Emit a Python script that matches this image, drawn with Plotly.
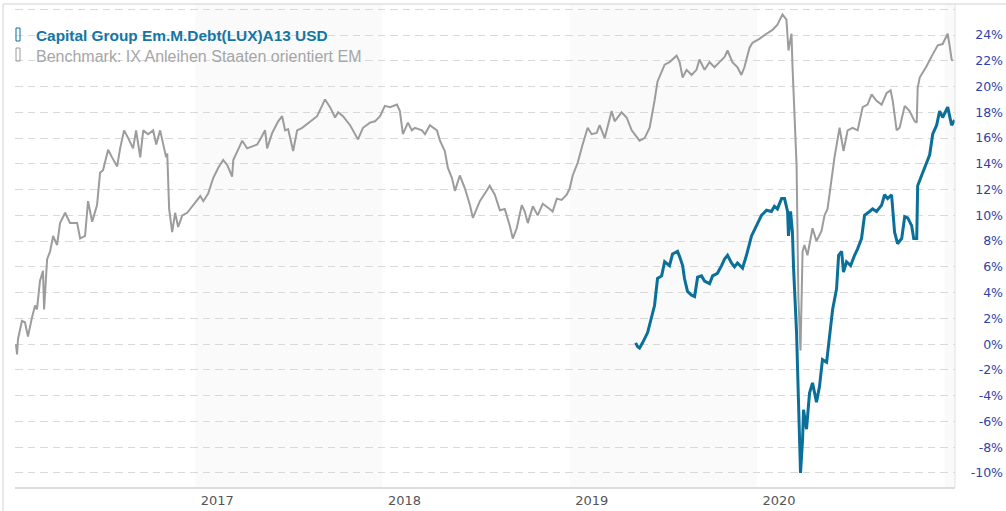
import math
import pandas as pd
import plotly.graph_objects as go

# ---------------- data (time as decimal years, values in %) ----------------
fund_name = "Capital Group Em.M.Debt(LUX)A13 USD"
bench_name = "Benchmark: IX Anleihen Staaten orientiert EM"

bench_t = [
    2016.045, 2016.051, 2016.056, 2016.077, 2016.093, 2016.109, 2016.131, 2016.147, 2016.157, 2016.173,
    2016.189, 2016.195, 2016.211, 2016.227, 2016.243, 2016.264, 2016.280, 2016.307, 2016.333, 2016.371,
    2016.387, 2016.413, 2016.429, 2016.451, 2016.477, 2016.493, 2016.509, 2016.536, 2016.557, 2016.584,
    2016.600, 2016.621, 2016.643, 2016.669, 2016.685, 2016.707, 2016.723, 2016.749, 2016.776, 2016.792,
    2016.813, 2016.829, 2016.845, 2016.851, 2016.861, 2016.877, 2016.893, 2016.909, 2016.931, 2016.957,
    2016.984, 2017.027, 2017.043, 2017.069, 2017.096, 2017.123, 2017.149, 2017.171, 2017.197, 2017.203,
    2017.229, 2017.251, 2017.277, 2017.331, 2017.347, 2017.373, 2017.384, 2017.411, 2017.443, 2017.464,
    2017.480, 2017.496, 2017.523, 2017.544, 2017.571, 2017.613, 2017.651, 2017.677, 2017.693, 2017.720,
    2017.747, 2017.763, 2017.789, 2017.827, 2017.869, 2017.896, 2017.933, 2017.960, 2017.987, 2018.013,
    2018.040, 2018.077, 2018.093, 2018.109, 2018.136, 2018.157, 2018.173, 2018.211, 2018.227, 2018.253,
    2018.291, 2018.307, 2018.333, 2018.349, 2018.371, 2018.387, 2018.413, 2018.440, 2018.467, 2018.483,
    2018.504, 2018.520, 2018.547, 2018.573, 2018.600, 2018.627, 2018.653, 2018.680, 2018.696, 2018.717,
    2018.744, 2018.760, 2018.776, 2018.803, 2018.829, 2018.856, 2018.893, 2018.909, 2018.931, 2018.957,
    2018.984, 2019.000, 2019.016, 2019.043, 2019.069, 2019.096, 2019.117, 2019.144, 2019.160, 2019.187,
    2019.224, 2019.240, 2019.277, 2019.304, 2019.331, 2019.373, 2019.400, 2019.427, 2019.453, 2019.469,
    2019.507, 2019.533, 2019.571, 2019.587, 2019.603, 2019.624, 2019.651, 2019.677, 2019.693, 2019.720,
    2019.747, 2019.773, 2019.800, 2019.827, 2019.843, 2019.869, 2019.896, 2019.917, 2019.933, 2019.960,
    2019.976, 2020.013, 2020.051, 2020.083, 2020.109, 2020.136, 2020.157, 2020.168, 2020.184, 2020.189,
    2020.211, 2020.221, 2020.232, 2020.243, 2020.253, 2020.269, 2020.296, 2020.317, 2020.344, 2020.360,
    2020.376, 2020.397, 2020.413, 2020.440, 2020.461, 2020.483, 2020.509, 2020.536, 2020.563, 2020.589,
    2020.611, 2020.637, 2020.664, 2020.691, 2020.712, 2020.723, 2020.744, 2020.760, 2020.787, 2020.813,
    2020.840, 2020.851, 2020.856, 2020.867, 2020.904, 2020.936, 2020.963, 2020.989, 2021.016, 2021.027,
    2021.037, 2021.043,
]
bench_v = [
    0.0, -0.8, 0.4, 1.8, 1.7, 0.6, 2.1, 3.0, 2.7, 4.9,
    5.7, 2.7, 6.6, 7.2, 8.4, 7.7, 9.4, 10.2, 9.4, 9.4,
    8.2, 8.4, 11.1, 9.5, 10.8, 13.3, 13.5, 15.1, 14.5, 13.8,
    15.2, 16.6, 16.0, 15.2, 16.6, 14.5, 16.6, 16.3, 16.6, 15.5,
    16.6, 15.5, 14.5, 14.8, 10.5, 8.7, 10.2, 9.1, 10.0, 10.2,
    10.7, 11.5, 11.1, 11.7, 12.9, 13.7, 14.3, 13.9, 13.0, 14.3,
    15.1, 15.8, 15.2, 15.5, 15.9, 16.6, 15.2, 16.4, 17.3, 17.7,
    16.6, 16.7, 15.0, 16.6, 16.8, 17.3, 17.7, 18.5, 19.0, 18.4,
    17.6, 18.0, 17.7, 17.0, 15.9, 16.8, 17.2, 17.3, 17.7, 18.5,
    18.4, 18.6, 18.1, 16.3, 17.2, 16.6, 16.8, 16.6, 16.3, 17.0,
    16.6, 15.8, 15.0, 13.7, 12.9, 11.9, 13.1, 12.1, 10.8, 9.8,
    10.6, 11.1, 11.7, 12.3, 11.6, 10.4, 10.5, 9.2, 8.2, 9.0,
    10.8, 10.3, 9.4, 10.7, 10.0, 10.9, 10.5, 10.3, 11.3, 11.2,
    11.6, 12.1, 13.1, 14.1, 15.5, 16.8, 16.3, 16.4, 17.0, 16.0,
    18.1, 17.3, 18.0, 17.6, 16.6, 15.8, 16.0, 16.8, 18.9, 20.4,
    21.7, 21.9, 22.4, 21.9, 20.7, 21.3, 20.9, 21.3, 22.1, 21.3,
    21.9, 21.5, 21.9, 22.3, 22.8, 21.9, 21.5, 20.9, 21.5, 23.0,
    23.4, 23.7, 24.1, 24.4, 24.8, 25.6, 25.2, 22.8, 24.1, 21.7,
    13.9, 3.5, -0.5, 7.2, 7.7, 6.9, 9.0, 8.0, 8.8, 10.0,
    10.5, 12.9, 14.5, 16.8, 15.0, 16.6, 16.8, 16.6, 18.4, 18.6,
    19.4, 18.9, 18.6, 19.5, 19.7, 18.9, 16.6, 16.8, 18.5, 18.1,
    17.3, 17.2, 19.9, 20.7, 21.6, 22.5, 23.2, 23.3, 24.1, 23.1,
    22.1, 22.0,
]

fund_t = [
    2019.352, 2019.363, 2019.373, 2019.389, 2019.416, 2019.437, 2019.453, 2019.469, 2019.491, 2019.507,
    2019.533, 2019.549, 2019.576, 2019.587, 2019.603, 2019.613, 2019.629, 2019.651, 2019.667, 2019.683,
    2019.704, 2019.720, 2019.747, 2019.763, 2019.789, 2019.811, 2019.827, 2019.843, 2019.864, 2019.880,
    2019.896, 2019.923, 2019.944, 2019.971, 2019.997, 2020.024, 2020.051, 2020.077, 2020.093, 2020.109,
    2020.131, 2020.147, 2020.163, 2020.168, 2020.179, 2020.189, 2020.195, 2020.211, 2020.221, 2020.232,
    2020.243, 2020.248, 2020.264, 2020.280, 2020.296, 2020.317, 2020.333, 2020.349, 2020.371, 2020.387,
    2020.403, 2020.424, 2020.435, 2020.451, 2020.461, 2020.477, 2020.499, 2020.520, 2020.536, 2020.557,
    2020.573, 2020.600, 2020.616, 2020.637, 2020.664, 2020.680, 2020.696, 2020.717, 2020.733, 2020.749,
    2020.771, 2020.787, 2020.803, 2020.824, 2020.835, 2020.851, 2020.856, 2020.877, 2020.904, 2020.920,
    2020.936, 2020.957, 2020.973, 2020.989, 2021.016, 2021.037, 2021.053,
]
fund_v = [
    0.1, -0.2, -0.3, 0.1, 0.9, 2.0, 3.0, 5.1, 5.3, 6.4,
    6.1, 7.0, 7.2, 6.8, 6.1, 5.1, 4.1, 3.8, 3.7, 5.2,
    5.3, 4.9, 4.7, 5.3, 5.5, 6.1, 6.6, 6.9, 6.3, 6.0,
    6.3, 5.9, 6.9, 8.4, 9.2, 10.0, 10.4, 10.3, 10.7, 10.5,
    11.3, 11.3, 10.3, 8.4, 10.3, 8.7, 5.9, 0.9, -4.3, -10.0,
    -7.4, -5.1, -6.6, -3.8, -3.0, -4.5, -3.3, -1.2, -1.4, 0.6,
    2.7, 4.3, 6.9, 7.2, 5.6, 6.4, 6.1, 6.9, 7.4, 8.2,
    10.0, 10.3, 10.5, 10.3, 10.8, 11.6, 11.3, 11.6, 8.7, 7.8,
    8.2, 9.9, 9.8, 9.2, 8.2, 8.2, 12.3, 13.1, 14.2, 14.7,
    16.3, 17.0, 18.1, 17.6, 18.4, 17.0, 17.4,
]

x_tick_years = [2017, 2018, 2019, 2020]
x_tick_labels = ["2017", "2018", "2019", "2020"]
shaded_years = [2017, 2019, 2021]
y_tick_values = [-10, -8, -6, -4, -2, 0, 2, 4, 6, 8, 10, 12, 14, 16, 18, 20, 22, 24, 26]
y_tick_labels = ["-10%", "-8%", "-6%", "-4%", "-2%", "0%", "2%", "4%", "6%", "8%",
                 "10%", "12%", "14%", "16%", "18%", "20%", "22%", "24%", ""]
x_range_years = [2016.040, 2021.055]
y_range = [-11.09, 26.41]


def dec_to_date(y):
    yi = int(math.floor(y))
    start = pd.Timestamp(year=yi, month=1, day=1)
    end = pd.Timestamp(year=yi + 1, month=1, day=1)
    return start + (end - start) * (y - yi)


bench_x = [dec_to_date(t) for t in bench_t]
fund_x = [dec_to_date(t) for t in fund_t]

# ---------------- geometry ----------------
W, H = 1006, 511
L, R, T, B = 15, 0, 4, 24
PLOT_RIGHT = 955
PW = W - L - R
PH = H - T - B


def px(x):
    return (x - L) / PW


def py(y):
    return (H - B - y) / PH


BLUE = "#0b7099"
GREY = "#9c9c9c"
FRAME = "#d0d0d0"

fig = go.Figure()
fig.add_trace(go.Scatter(x=bench_x, y=bench_v, mode="lines", name=bench_name,
                         line=dict(color=GREY, width=2), showlegend=False))
fig.add_trace(go.Scatter(x=fund_x, y=fund_v, mode="lines", name=fund_name,
                         line=dict(color=BLUE, width=3), showlegend=False))

shapes = []
for yr in shaded_years:
    x0 = pd.Timestamp(year=yr, month=1, day=1)
    x1 = min(pd.Timestamp(year=yr + 1, month=1, day=1), dec_to_date(x_range_years[1]))
    shapes.append(dict(type="rect", xref="x", yref="paper", x0=x0, x1=x1, y0=0, y1=1,
                       fillcolor="#fafafa", line=dict(width=0), layer="below"))
# frame lines
shapes.append(dict(type="line", xref="paper", yref="paper", x0=px(3), x1=px(W), y0=1, y1=1,
                   line=dict(color=FRAME, width=1)))
shapes.append(dict(type="line", xref="paper", yref="paper", x0=px(3), x1=px(3), y0=1, y1=py(H),
                   line=dict(color=FRAME, width=1)))
shapes.append(dict(type="line", xref="paper", yref="paper", x0=px(PLOT_RIGHT), x1=px(PLOT_RIGHT),
                   y0=0, y1=1, line=dict(color="#e2e2e2", width=1)))
# legend marker boxes
for color, ytop in [(BLUE, 28), (GREY, 48)]:
    shapes.append(dict(type="rect", xref="paper", yref="paper", x0=px(16), x1=px(20),
                       y0=py(ytop + 13), y1=py(ytop), line=dict(color=color, width=1),
                       fillcolor="rgba(0,0,0,0)"))

annotations = [
    dict(text=fund_name, xref="paper", yref="paper", x=px(34), y=py(35), xanchor="left",
         yanchor="middle", showarrow=False,
         font=dict(family="Liberation Sans, Arial", size=15.4, color="#1576a3", weight="bold")),
    dict(text=bench_name, xref="paper", yref="paper", x=px(34), y=py(57), xanchor="left",
         yanchor="middle", showarrow=False,
         font=dict(family="Liberation Sans, Arial", size=16, color="#a6a6a6")),
]

fig.update_layout(
    width=W, height=H,
    margin=dict(l=L, r=R, t=T, b=B, pad=0),
    paper_bgcolor="white", plot_bgcolor="white",
    shapes=shapes, annotations=annotations,
    xaxis=dict(
        domain=[0, px(PLOT_RIGHT)],
        range=[dec_to_date(x_range_years[0]), dec_to_date(x_range_years[1])],
        tickvals=[pd.Timestamp(year=y, month=1, day=1) + pd.Timedelta(days=43) for y in x_tick_years],
        ticktext=x_tick_labels,
        showgrid=False, zeroline=False, ticks="",
        showline=True, linecolor="#dcdcdc", linewidth=2,
        tickfont=dict(family="DejaVu Sans", size=13, color="#555555"),
    ),
    yaxis=dict(
        side="right", anchor="free", position=1.0,
        ticklabelposition="inside",
        range=y_range,
        tickvals=y_tick_values, ticktext=y_tick_labels,
        showgrid=True, gridcolor="#d9d9d9", gridwidth=1, griddash="7.5px,5px",
        zeroline=False, showline=False, ticks="",
        tickfont=dict(family="DejaVu Sans", size=12.5, color="#2d43a8"),
    ),
)

fig.write_html("out.html")
